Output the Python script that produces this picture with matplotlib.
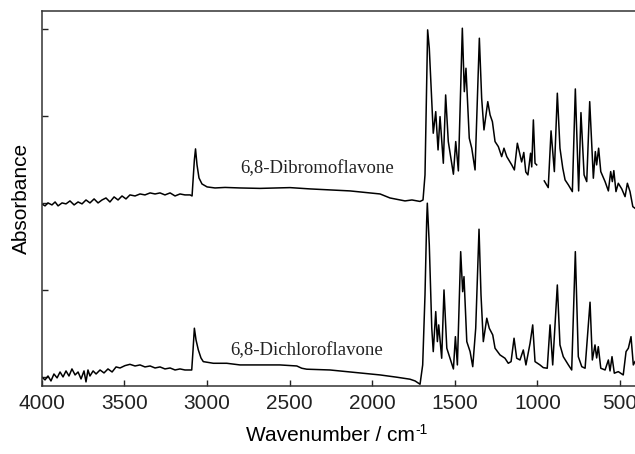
import numpy as np
import matplotlib
matplotlib.use("Agg")
import matplotlib.pyplot as plt

plt.rcParams['font.family'] = ['Liberation Sans', 'DejaVu Sans']

# ---- 6,8-Dibromoflavone (upper trace, offset) ----
dibromo_wn = [4000, 3980, 3962, 3938, 3919, 3901, 3877, 3853, 3829, 3804, 3780, 3756, 3732,
              3708, 3683, 3659, 3635, 3611, 3587, 3562, 3538, 3514, 3490, 3466, 3435, 3405,
              3375, 3344, 3314, 3284, 3254, 3223, 3193, 3163, 3133, 3102, 3090, 3076, 3069,
              3060, 3048, 3030, 2999, 2951, 2890, 2800, 2679, 2497, 2376, 2255, 2134, 2043,
              1952, 1892, 1831, 1801, 1759, 1710, 1692, 1680, 1670, 1664, 1654, 1637, 1630,
              1615, 1601, 1589, 1569, 1555, 1539, 1508, 1494, 1478, 1454, 1442, 1432, 1412,
              1397, 1377, 1351, 1337, 1323, 1300, 1286, 1272, 1256, 1236, 1216, 1202, 1185,
              1155, 1139, 1121, 1105, 1095, 1082, 1070, 1057, 1041, 1034, 1024, 1014, 1004,
              990,
              958, 934, 917, 897, 879, 863, 846, 832, 812, 788, 770, 750, 736, 717, 701,
              683, 661, 649, 641, 629, 616, 590, 570, 556, 546, 537, 524, 510, 489, 469,
              455, 439, 422, 409]
dibromo_abs = [1.989, 1.966, 2.000, 1.977, 2.011, 1.966, 2.000, 1.989, 2.023, 1.977, 2.011,
               1.989, 2.034, 2.000, 2.046, 2.000, 2.034, 2.057, 2.011, 2.069, 2.034, 2.080,
               2.046, 2.092, 2.080, 2.103, 2.092, 2.115, 2.103, 2.115, 2.092, 2.115, 2.080,
               2.103, 2.092, 2.092, 2.080, 2.494, 2.621, 2.437, 2.287, 2.218, 2.184, 2.172,
               2.178, 2.172, 2.167, 2.176, 2.161, 2.149, 2.138, 2.121, 2.103, 2.057, 2.034,
               2.023, 2.034, 2.017, 2.034, 2.322, 3.394, 3.989, 3.778, 3.092, 2.801, 3.049,
               2.609, 2.992, 2.456, 3.241, 2.705, 2.330, 2.705, 2.368, 4.008, 3.279, 3.548,
               2.744, 2.629, 2.379, 3.893, 3.203, 2.839, 3.164, 3.011, 2.934, 2.705, 2.647,
               2.532, 2.629, 2.532, 2.437, 2.379, 2.686, 2.552, 2.471, 2.580, 2.356, 2.322,
               2.571, 2.414, 2.954, 2.456, 2.437,
               np.nan,
               2.253, 2.176, 2.828, 2.360, 3.261, 2.629, 2.399, 2.264, 2.207, 2.130, 3.310,
               2.138, 3.038, 2.322, 2.245, 3.164, 2.284, 2.590, 2.437, 2.629, 2.360, 2.245,
               2.138, 2.360, 2.245, 2.371, 2.130, 2.226, 2.161, 2.072, 2.226, 2.130, 1.957,
               1.939]

# ---- 6,8-Dichloroflavone (lower trace) ----
dichloro_wn = [4000, 3980, 3962, 3944, 3926, 3907, 3889, 3871, 3853, 3835, 3817, 3798, 3780,
               3762, 3744, 3732, 3720, 3708, 3689, 3671, 3647, 3623, 3599, 3574, 3550, 3526,
               3496, 3466, 3435, 3405, 3375, 3344, 3314, 3284, 3254, 3223, 3193, 3163, 3133,
               3092, 3084, 3076, 3066, 3052, 3036, 3022, 2961, 2880, 2800, 2739, 2558, 2456,
               2426, 2396, 2255, 2154, 2053, 1952, 1851, 1771, 1740, 1720, 1710, 1694, 1680,
               1670, 1666, 1654, 1639, 1630, 1615, 1605, 1597, 1579, 1565, 1548, 1529, 1508,
               1496, 1484, 1464, 1452, 1444, 1427, 1407, 1391, 1373, 1353, 1341, 1327, 1306,
               1291, 1270, 1256, 1226, 1196, 1176, 1159, 1141, 1125, 1105, 1085, 1069, 1044,
               1028, 1014, 984, 964, 940, 923, 907, 879, 863, 843, 812, 792, 770, 752, 731,
               711, 681, 667, 651, 641, 631, 616, 590, 570, 560, 548, 534, 510, 480, 463,
               449, 433, 419, 409]
dichloro_abs = [0.000, -0.034, 0.011, -0.046, 0.034, -0.011, 0.057, 0.000, 0.069, 0.011,
                0.092, 0.023, 0.057, -0.023, 0.069, -0.057, 0.080, 0.011, 0.069, 0.034,
                0.080, 0.046, 0.092, 0.057, 0.115, 0.103, 0.130, 0.145, 0.126, 0.138, 0.115,
                0.126, 0.103, 0.115, 0.092, 0.103, 0.080, 0.092, 0.080, 0.080, 0.310, 0.560,
                0.425, 0.310, 0.218, 0.176, 0.157, 0.157, 0.138, 0.138, 0.138, 0.126, 0.100,
                0.089, 0.080, 0.061, 0.043, 0.023, -0.003, -0.026, -0.046, -0.072, -0.084,
                0.138, 0.943, 1.785, 1.997, 1.517, 0.560, 0.291, 0.751, 0.406, 0.598, 0.215,
                1.000, 0.330, 0.215, 0.092, 0.463, 0.138, 1.440, 0.980, 1.153, 0.406, 0.291,
                0.118, 0.560, 1.698, 0.943, 0.406, 0.675, 0.560, 0.483, 0.330, 0.253, 0.215,
                0.157, 0.176, 0.445, 0.215, 0.195, 0.310, 0.138, 0.387, 0.598, 0.176, 0.138,
                0.107, 0.100, 0.598, 0.138, 1.057, 0.368, 0.233, 0.138, 0.080, 1.440, 0.233,
                0.118, 0.100, 0.859, 0.195, 0.368, 0.218, 0.348, 0.100, 0.080, 0.195, 0.069,
                0.233, 0.043, 0.061, 0.023, 0.291, 0.330, 0.463, 0.138, 0.176]

x_ticks = [4000, 3500, 3000, 2500, 2000, 1500, 1000, 500]
x_tick_labels = ['4000', '3500', '3000', '2500', '2000', '1500', '1000', '500']
y_ticks = [0, 1, 2, 3, 4]
labels = ['6,8-Dibromoflavone', '6,8-Dichloroflavone']
label_pos = [(2800, 2.345), (2860, 0.253)]

fig = plt.figure(figsize=(6.35, 4.54), dpi=100)
ax = fig.add_axes([0.0657, 0.150, 0.9366, 0.826])

ax.plot(dibromo_wn, dibromo_abs, color='black', lw=1.1)
ax.plot(dichloro_wn, dichloro_abs, color='black', lw=1.1)

for lab, (xw, ya) in zip(labels, label_pos):
    ax.text(xw, ya, lab, family=['Liberation Serif', 'DejaVu Serif'], fontsize=13.5,
            ha='left', va='baseline', color='#222222')

ax.set_xlim(4000, 400)
ax.set_ylim(-0.103, 4.207)
ax.set_xticks(x_ticks)
ax.set_xticklabels(x_tick_labels)
ax.set_yticks(y_ticks)
ax.set_yticklabels([])
ax.tick_params(direction='in', length=4, width=1, labelsize=15, pad=6, colors='#222222')
for s in ax.spines.values():
    s.set_linewidth(1.1)
    s.set_color('#333333')
ax.spines['right'].set_visible(False)

xl = ax.set_xlabel('Wavenumber / cm', fontsize=15, labelpad=9)
xl.set_x(0.485)
ax.annotate('-1', xy=(1, 1), xycoords=xl, xytext=(0.5, -3), textcoords='offset points',
            fontsize=10, ha='left', va='center')
ax.set_ylabel('Absorbance', fontsize=15, labelpad=2)

fig.savefig('out.png', dpi=100)
